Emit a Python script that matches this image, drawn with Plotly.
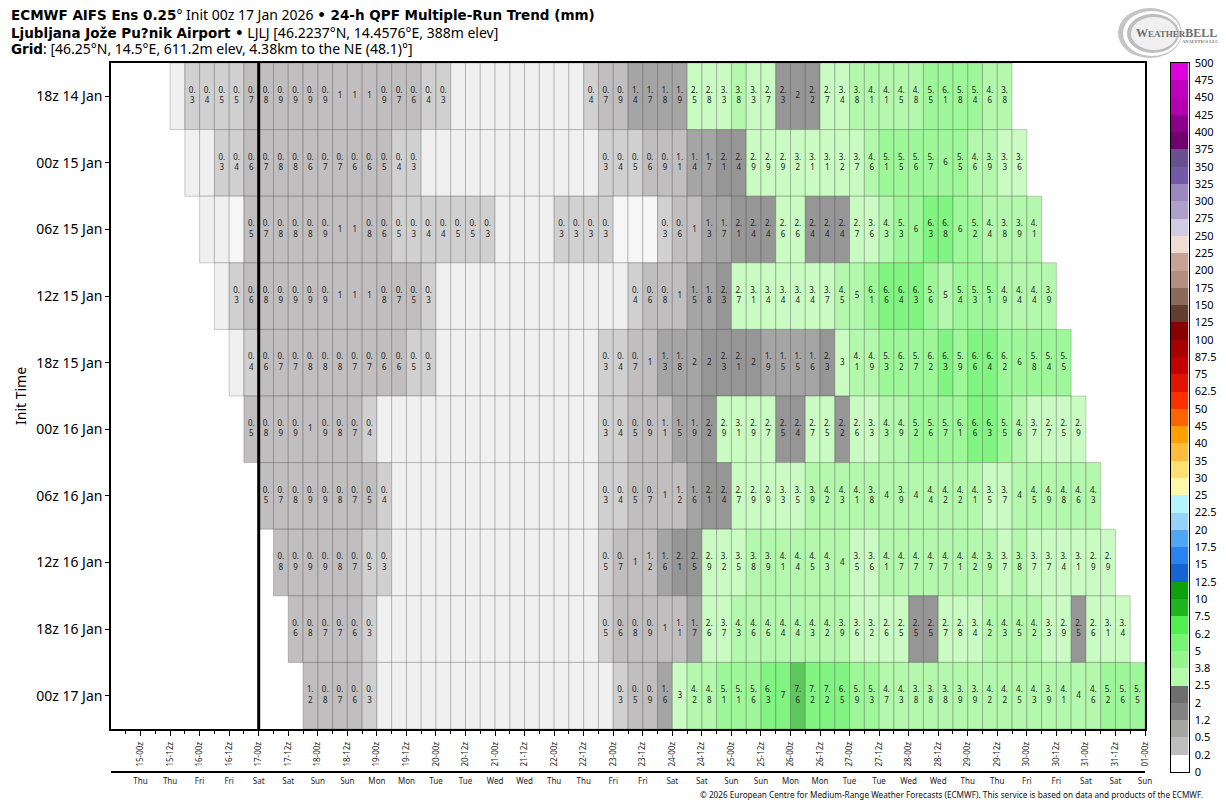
import plotly.graph_objects as go

W, H = 1226, 808
FONT = "Noto Sans"

init_labels = ["18z 14 Jan", "00z 15 Jan", "06z 15 Jan", "12z 15 Jan", "18z 15 Jan",
               "00z 16 Jan", "06z 16 Jan", "12z 16 Jan", "18z 16 Jan", "00z 17 Jan"]

r_18z14 = [.1, .3, .4, .47, .47, .7, .8, .9, .9, .9, .9, 1, 1, 1, .9, .7, .6, .4, .3,
           .1, .1, .1, .1, .1, .1, .1, .1, .1,
           .4, .7, .9, 1.4, 1.7, 1.8, 1.9, 2.5, 2.8, 3.3, 3.8, 3.3, 2.7, 2.3, 2, 2.2, 2.7, 3.4, 3.8,
           4.1, 4.1, 4.5, 4.8, 5.5, 6.1, 5.8, 5.4, 4.6, 3.8]
r_00z15 = [.1, .1, .3, .4, .6, .7, .8, .8, .6, .7, .7, .6, .6, .5, .4, .3,
           .1, .1, .1, .1, .1, .1, .1, .1, .1, .1, .1, .1,
           .3, .4, .47, .6, .9, 1.1, 1.4, 1.7, 2.1, 2.4, 2.9, 2.9, 2.9, 3.2, 3.1, 3.1, 3.2, 3.7,
           4.6, 5.1, 5.5, 5.6, 5.7, 6, 5.5, 4.6, 3.9, 3.3, 3.6]
r_06z15 = [.1, .1, 0, .5, .7, .8, .8, .8, .9, 1, 1, .8, .6, .47, .3, .4, .4, .47, .47, .3,
           .1, .1, .1, .1, .3, .3, .3, .3, 0, 0, 0, .3, .6, 1, 1.3, 1.7, 2.1, 2.4, 2.4, 2.6, 2.6,
           2.4, 2.4, 2.4, 2.7, 3.6, 4.3, 5.3, 6, 6.3, 6.8, 6, 5.2, 4.4, 3.8, 3.9, 4.1]
r_12z15 = [.1, .3, .6, .8, .9, .9, .9, .9, 1, 1, 1, .8, .7, .5, .3,
           .1, .1, .1, .1, .1, .1, .1, .1, .1, .1, .1, .1, .1,
           .4, .6, .8, 1, 1.5, 1.8, 2.3, 2.7, 3.1, 3.4, 3.4, 3.4, 3.4, 3.7, 4.5, 4.96, 6.1, 6.6, 6.4,
           6.3, 5.6, 4.96, 5.4, 5.3, 5.1, 4.9, 4.4, 4.4, 3.9]
r_18z15 = [.1, .4, .6, .7, .7, .8, .8, .8, .7, .7, .6, .6, .47, .3,
           .1, .1, .1, .1, .1, .1, .1, .1, .1, .1, .1,
           .3, .4, .7, 1, 1.3, 1.8, 1.97, 2, 2.3, 2.1, 2, 1.9, 1.5, 1.5, 1.6, 2.3, 3, 4.1, 4.9, 5.3,
           6.2, 5.7, 6.2, 6.3, 5.9, 6.6, 6.4, 6.2, 6, 5.8, 5.4, 5.5]
r_00z16 = [.5, .8, .9, .9, 1, .9, .8, .7, .4,
           .1, .1, .1, .1, .1, .1, .1, .1, .1, .1, .1, .1, .1, .1, .1,
           .3, .4, .5, .9, 1.1, 1.5, 1.9, 2.2, 2.9, 3.1, 2.9, 2.7, 2.46, 2.4, 2.7, 2.5, 2.2, 2.6, 3.3,
           4.3, 4.9, 5.2, 5.6, 5.7, 6.1, 6.6, 6.3, 5.5, 4.6, 3.7, 2.7, 2.5, 2.9]
r_06z16 = [.5, .7, .8, .9, .9, .8, .7, .5, .4,
           .1, .1, .1, .1, .1, .1, .1, .1, .1, .1, .1, .1, .1, .1,
           .3, .4, .5, .7, 1, 1.2, 1.6, 2.1, 2.4, 2.7, 2.9, 2.9, 3.3, 3.5, 3.9, 4.2, 4.3, 4.1, 3.8, 4,
           3.9, 4, 4.4, 4.2, 4.2, 4.1, 3.5, 3.7, 4, 4.5, 4.9, 4.8, 4.6, 4.3]
r_12z16 = [.8, .9, .9, .9, .8, .7, .47, .3,
           .1, .1, .1, .1, .1, .1, .1, .1, .1, .1, .1, .1, .1, .1,
           .47, .7, 1, 1.2, 1.6, 2.1, 2.46, 2.9, 3.2, 3.5, 3.8, 3.9, 4.1, 4.4, 4.5, 4.3, 4, 3.5, 3.6, 4.1,
           4.7, 4.7, 4.7, 4.7, 4.1, 4.2, 3.9, 3.7, 3.8, 3.7, 3.7, 3.4, 3.1, 2.9, 2.9]
r_18z16 = [.6, .8, .7, .7, .6, .3,
           .1, .1, .1, .1, .1, .1, .1, .1, .1, .1, .1, .1, .1, .1, .1,
           .47, .6, .8, .9, 1, 1.1, 1.7, 2.6, 3.7, 4.3, 4.6, 4.6, 4.4, 4.4, 4.3, 4.2, 3.9, 3.6, 3.2, 2.6,
           2.5, 2.46, 2.46, 2.7, 2.8, 3.4, 4.2, 4.3, 4.5, 4.2, 3.3, 2.9, 2.46, 2.6, 3.1, 3.4]
r_00z17 = [1.2, .8, .7, .6, .3,
           .1, .1, .1, .1, .1, .1, .1, .1, .1, .1, .1, .1, .1, .1, .1, .1,
           .3, .5, .9, 1.6, 3, 4.2, 4.8, 5.1, 5.1, 5.6, 6.3, 7, 7.6, 7.2, 7.2, 6.5, 5.9, 5.3, 4.7, 4.3,
           3.8, 3.8, 3.8, 3.9, 3.9, 4.2, 4.2, 4.5, 4.3, 3.9, 4.1, 4, 4.6, 5.2, 5.6, 5.5]
rows = [r_18z14, r_00z15, r_06z15, r_12z15, r_18z15, r_00z16, r_06z16, r_12z16, r_18z16, r_00z17]
row_first_slot = [4, 5, 6, 7, 8, 9, 10, 11, 12, 13]

time_labels = ["15-00z", "15-12z", "16-00z", "16-12z", "17-00z", "17-12z", "18-00z", "18-12z",
               "19-00z", "19-12z", "20-00z", "20-12z", "21-00z", "21-12z", "22-00z", "22-12z",
               "23-00z", "23-12z", "24-00z", "24-12z", "25-00z", "25-12z", "26-00z", "26-12z",
               "27-00z", "27-12z", "28-00z", "28-12z", "29-00z", "29-12z", "30-00z", "30-12z",
               "31-00z", "31-12z", "01-00z"]
day_labels = ["Thu", "Thu", "Fri", "Fri", "Sat", "Sat", "Sun", "Sun", "Mon", "Mon", "Tue", "Tue",
              "Wed", "Wed", "Thu", "Thu", "Fri", "Fri", "Sat", "Sat", "Sun", "Sun", "Mon", "Mon",
              "Tue", "Tue", "Wed", "Wed", "Thu", "Thu", "Fri", "Fri", "Sat", "Sat", "Sun"]

bin_edges = [0, .25, .5, 1.25, 2, 2.5, 3.75, 5, 6.25, 7.5, 10, 12.5, 15, 17.5, 20, 22.5, 25, 30, 35, 40,
             45, 50, 62.5, 75, 87.5, 100, 125, 150, 175, 200, 225, 250, 275, 300, 325, 350, 375, 400,
             425, 450, 475, 500]
bin_labels = ["0", "0.2", "0.5", "1.2", "2", "2.5", "3.8", "5", "6.2", "7.5", "10", "12.5", "15", "17.5",
              "20", "22.5", "25", "30", "35", "40", "45", "50", "62.5", "75", "87.5", "100", "125", "150",
              "175", "200", "225", "250", "275", "300", "325", "350", "375", "400", "425", "450", "475", "500"]
bin_colors = ["#ffffff", "#bebebe", "#a8a5a5", "#828282", "#6e6e6e", "#b4faaa", "#96f58c", "#78f573",
              "#50f050", "#1eb41e", "#0fa00f", "#1464d2", "#2882f0", "#50a5f5", "#96d2fa", "#b4f4ff",
              "#fff8a8", "#ffe070", "#ffbd3c", "#ffa000", "#ff6400", "#ff3000", "#e01400", "#c30000",
              "#a80000", "#8b0000", "#623e31", "#8b6a5c", "#b38f82", "#c8a295", "#f0dcd2", "#cfcbe2",
              "#ada1cb", "#9b89bd", "#7359a6", "#67508d", "#700070", "#8b008b", "#b400b0", "#c000c0",
              "#dd00dd"]
CELL_ALPHA = 0.72


def bin_index(v):
    i = 0
    while i + 1 < len(bin_colors) and v >= bin_edges[i + 1]:
        i += 1
    return i


def cell_color(v):
    if v == 0:
        return "#f6f6f6"
    if v < bin_edges[1]:
        return "#f0f0f0"
    c = bin_colors[bin_index(v)]
    r, g, b = int(c[1:3], 16), int(c[3:5], 16), int(c[5:7], 16)
    return f"rgba({r},{g},{b},{CELL_ALPHA})"


def cell_text(v):
    if v < bin_edges[1]:
        return ""
    s = f"{v:.1f}"
    if s.endswith(".0"):
        return s[:-2]
    return s.replace(".", ".<br>")


fig = go.Figure()
for ri, vals in enumerate(rows):
    assert len(vals) == 57, (ri, len(vals))
    first = row_first_slot[ri]
    slots = list(range(first, first + len(vals)))
    fig.add_trace(go.Bar(
        orientation="h", y=[ri] * len(vals), x=[1] * len(vals), base=slots, width=1,
        marker=dict(color=[cell_color(v) for v in vals],
                    line=dict(color="rgba(50,50,50,0.24)", width=1)),
        hoverinfo="skip", showlegend=False, xaxis="x", yaxis="y"))
for ri, vals in enumerate(rows):
    first = row_first_slot[ri]
    slots = list(range(first, first + len(vals)))
    fig.add_trace(go.Scatter(
        x=[s + 0.5 for s in slots], y=[ri] * len(vals), mode="text",
        text=[cell_text(v) for v in vals], textposition="middle center",
        textfont=dict(family=FONT, size=8, color="#222222"),
        hoverinfo="skip", showlegend=False, xaxis="x", yaxis="y"))

slot_per_label = 2
tick_slots = [2 + slot_per_label * i for i in range(len(time_labels))]
minor_slots = [1 + slot_per_label * i for i in range(len(time_labels))]
init_slot = tick_slots[time_labels.index("17-00z")]

fig.add_trace(go.Scatter(x=[init_slot, init_slot], y=[-0.5, len(rows) - 0.5], mode="lines",
                         line=dict(color="black", width=3), hoverinfo="skip",
                         showlegend=False, xaxis="x", yaxis="y"))
fig.add_trace(go.Scatter(x=tick_slots, y=[0] * len(tick_slots), mode="markers", marker=dict(opacity=0),
                         hoverinfo="skip", showlegend=False, xaxis="x2", yaxis="y"))

n_bins = len(bin_colors)
scale = []
for i, c in enumerate(bin_colors):
    scale += [[i / n_bins, c], [(i + 1) / n_bins, c]]
fig.add_trace(go.Heatmap(z=[[i] for i in range(n_bins)], x=[0], y=list(range(n_bins)),
                         zmin=-0.5, zmax=n_bins - 0.5, colorscale=scale, showscale=False,
                         hoverinfo="skip", xaxis="x3", yaxis="y3"))


def fx(px):
    return px / W


def fy(px):
    return 1 - px / H


black_axis = dict(showgrid=False, zeroline=False, linecolor="black", automargin=False)
fig.update_layout(
    width=W, height=H, autosize=False, margin=dict(l=0, r=0, t=0, b=0),
    paper_bgcolor="white", plot_bgcolor="white", barmode="overlay",
    font=dict(family=FONT, color="black"), showlegend=False,
    xaxis=dict(black_axis, domain=[fx(111), fx(1145)], range=[0, 70], anchor="y", mirror=True, linewidth=1.5,
               tickmode="array", tickvals=tick_slots, ticktext=time_labels, tickangle=-90,
               tickfont=dict(size=8, color="#222"), ticks="outside", ticklen=5, tickcolor="black",
               ticklabelstandoff=3,
               minor=dict(tickmode="array", tickvals=minor_slots, ticks="outside", ticklen=3, tickcolor="black")),
    xaxis2=dict(black_axis, domain=[fx(111), fx(1145)], range=[0, 70], overlaying="x", anchor="free",
                position=fy(772), side="bottom", linewidth=1.5,
                tickmode="array", tickvals=tick_slots, ticktext=day_labels, tickangle=0,
                tickfont=dict(size=8, color="#222"), ticks="", ticklabelstandoff=2),
    yaxis=dict(black_axis, domain=[fy(729), fy(63)], range=[len(rows) - 0.5, -0.5], anchor="x", mirror=True,
               linewidth=1.5, tickmode="array", tickvals=list(range(len(rows))), ticktext=init_labels,
               tickfont=dict(size=14), ticks="outside", ticklen=4, tickcolor="black"),
    xaxis3=dict(black_axis, domain=[fx(1170.5), fx(1188.5)], anchor="y3", mirror=True, linewidth=1,
                showticklabels=False, ticks=""),
    yaxis3=dict(black_axis, domain=[fy(772), fy(63)], range=[-0.5, n_bins - 0.5], anchor="x3", side="right",
                mirror=True, linewidth=1, tickmode="array",
                tickvals=[i - 0.5 for i in range(n_bins + 1)], ticktext=bin_labels,
                tickfont=dict(size=11), ticks="", ticklabelstandoff=3),
)

fig.add_annotation(xref="paper", yref="paper", x=fx(20), y=fy(396), xanchor="center", yanchor="middle",
                   showarrow=False, text="Init Time", textangle=-90, font=dict(family=FONT, size=14, color="black"))


def bd(t):
    return f"<span style='font-family:DejaVu Sans;font-weight:bold;font-size:13.5px'>{t}</span>"


header = [
    (14, bd("ECMWF AIFS Ens 0.25") + "° Init 00z 17 Jan 2026 " + bd("• 24-h QPF Multiple-Run Trend (mm)")),
    (32, bd("Ljubljana Jože Pu?nik Airport •") + " LJLJ [46.2237°N, 14.4576°E, 388m elev]"),
    (48, bd("Grid") + ": [46.25°N, 14.5°E, 611.2m elev, 4.38km to the NE (48.1)°]"),
]
for py, txt in header:
    fig.add_annotation(xref="paper", yref="paper", x=fx(9), y=fy(py), xanchor="left", yanchor="middle",
                       showarrow=False, text=txt, align="left", font=dict(family=FONT, size=14, color="black"))
fig.add_annotation(xref="paper", yref="paper", x=fx(1205), y=fy(794), xanchor="right", yanchor="middle",
                   showarrow=False, font=dict(family=FONT, size=8.2, color="#111"),
                   text="© 2026 European Centre for Medium-Range Weather Forecasts (ECMWF). "
                        "This service is based on data and products of the ECMWF.")
# logo swirl
for (x0, x1, y0, y1, col) in [(1118, 1182, 8, 58, "#c4c4c4"), (1123, 1181, 11, 56, "#ffffff"),
                              (1127, 1179, 14, 53, "#bdbdbd"), (1131, 1177, 17, 50, "#f0f0f0")]:
    fig.add_shape(type="circle", xref="paper", yref="paper", x0=fx(x0), x1=fx(x1), y0=fy(y1), y1=fy(y0),
                  fillcolor=col, line=dict(width=0))
fig.add_annotation(xref="paper", yref="paper", x=fx(1176.5), y=fy(33), xanchor="center", yanchor="middle",
                   showarrow=False, text="<b>W<span style='font-size:9px'>EATHER</span>BELL</b>",
                   font=dict(family="Liberation Serif", size=12, color="#6e6e6e"))
fig.add_annotation(xref="paper", yref="paper", x=fx(1200), y=fy(41), xanchor="center", yanchor="middle",
                   showarrow=False, text="<b>ANALYTICS LLC</b>",
                   font=dict(family="Liberation Serif", size=4.5, color="#6e6e6e"))

fig.write_html("out.html", config={"displayModeBar": False}, post_script="document.body.style.margin='0';")
